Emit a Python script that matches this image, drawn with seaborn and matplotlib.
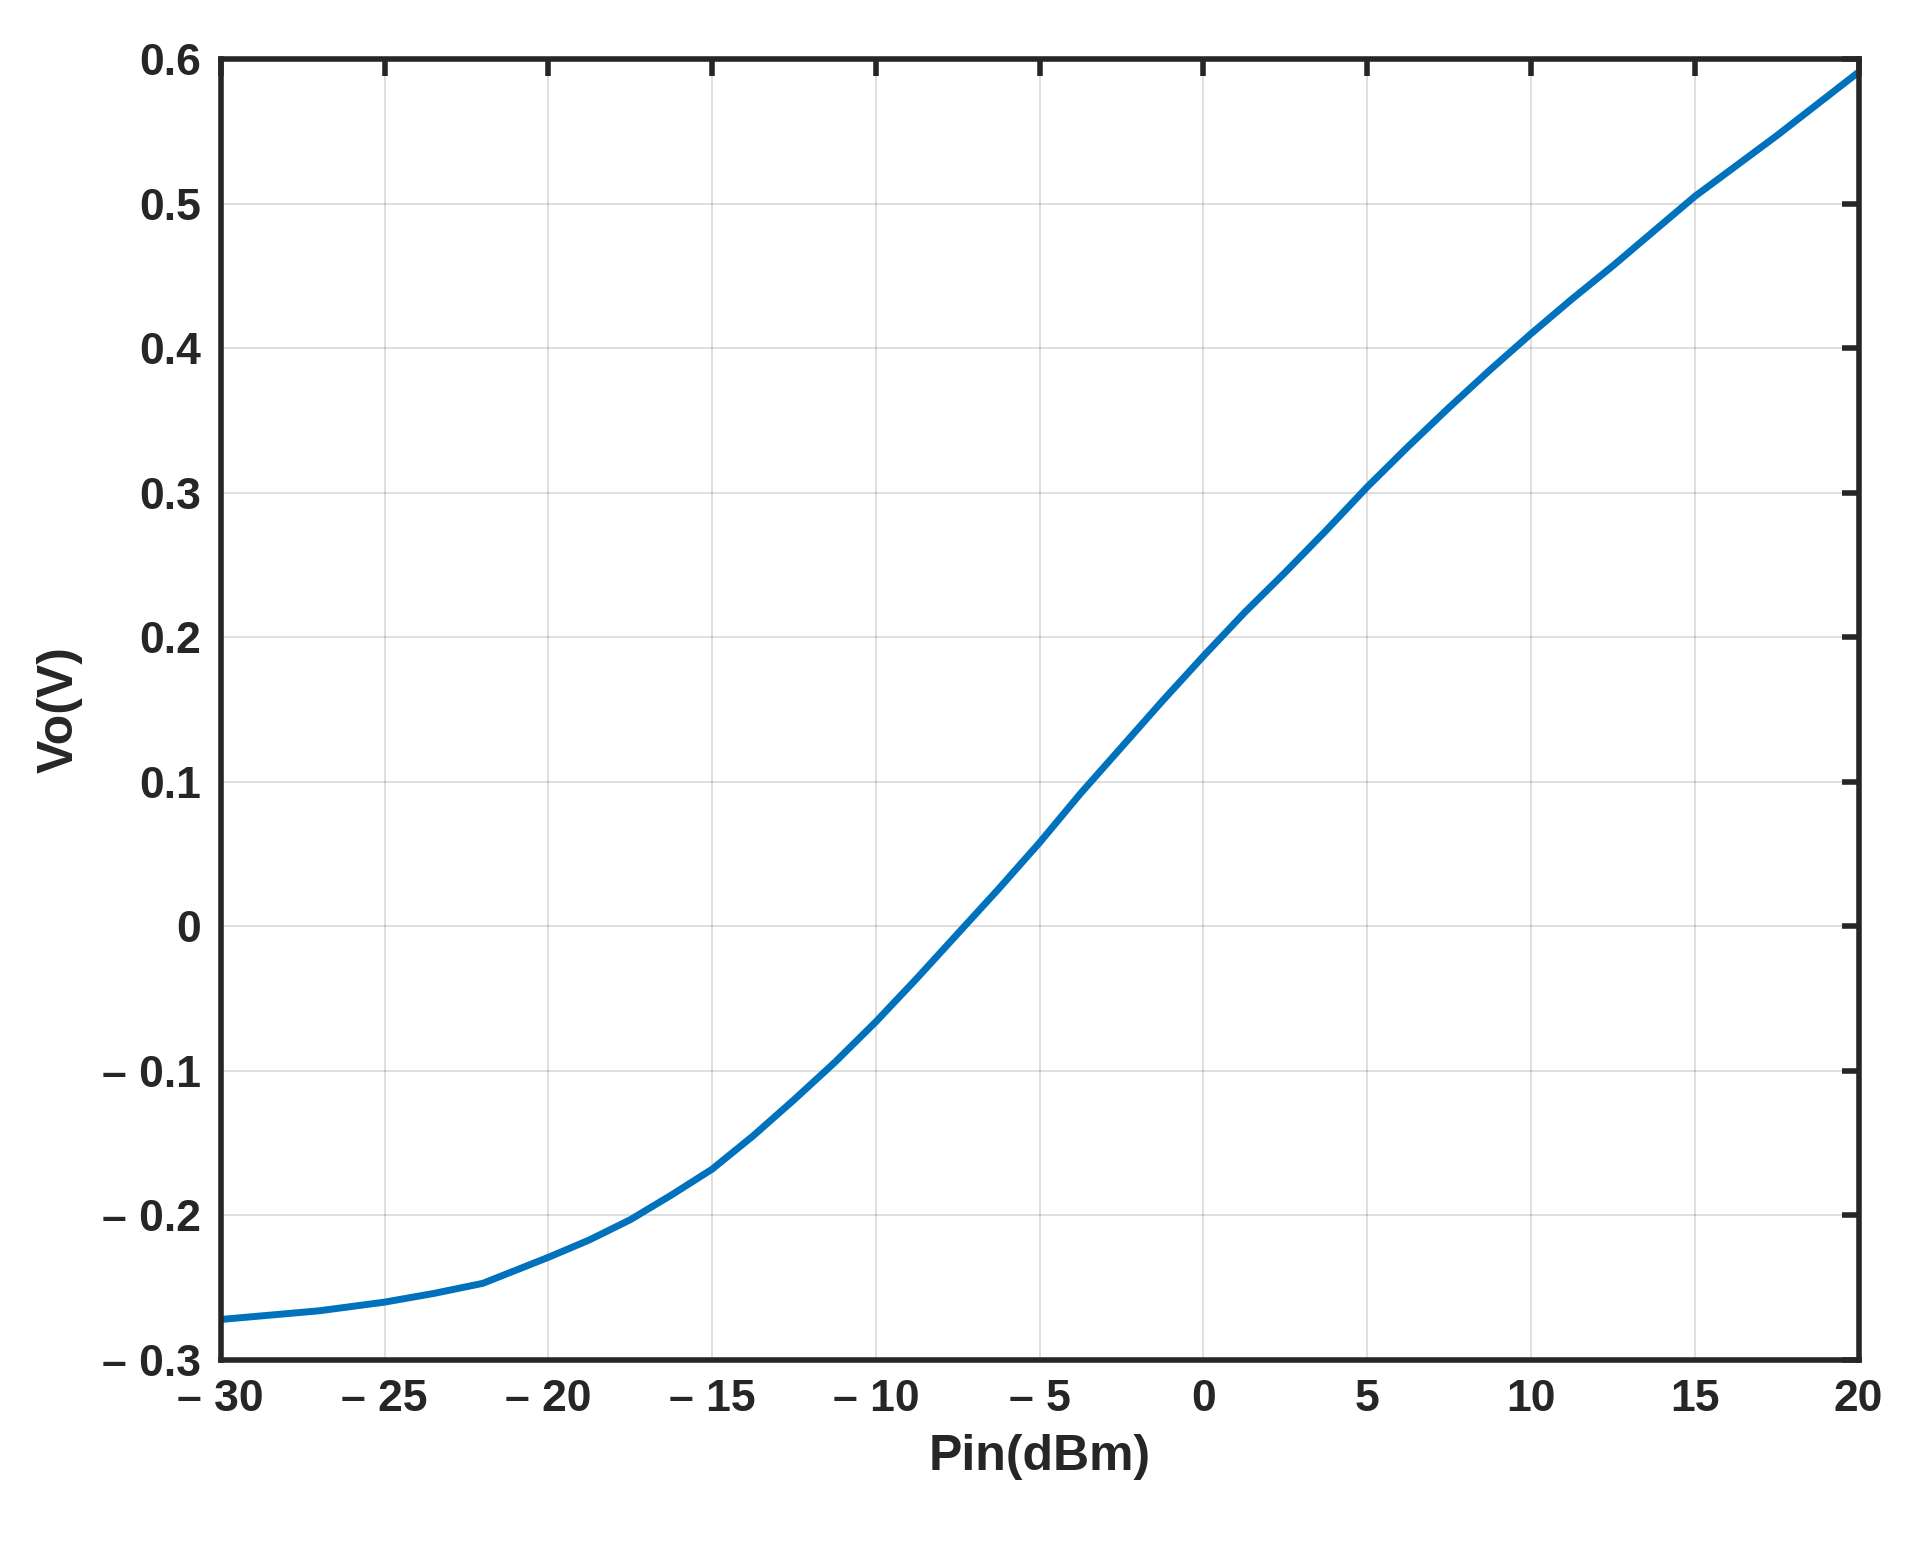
import numpy as np
import pandas as pd
import seaborn as sns
import matplotlib.pyplot as plt

# Datos
pin_dbm = [-30, -28.5, -27, -25, -23.5, -22, -21, -20, -18.75, -17.5, -16.25, -15,
           -13.75, -12.5, -11.25, -10, -8.75, -7.5, -6.25, -5, -3.75, -2.5, -1.25,
           0, 1.25, 2.5, 3.75, 5, 6.25, 7.5, 8.75, 10, 11.25, 12.5, 13.75, 15,
           16.25, 17.5, 18.75, 20]
vo_v = [-0.272, -0.269, -0.266, -0.260, -0.254, -0.247, -0.238, -0.229, -0.217,
        -0.203, -0.186, -0.168, -0.145, -0.120, -0.094, -0.066, -0.036, -0.005,
        0.026, 0.058, 0.092, 0.124, 0.156, 0.187, 0.217, 0.245, 0.274, 0.304,
        0.332, 0.359, 0.385, 0.410, 0.434, 0.457, 0.481, 0.505, 0.526, 0.547,
        0.569, 0.591]
x_ticks = [-30, -25, -20, -15, -10, -5, 0, 5, 10, 15, 20]
y_ticks = [-0.3, -0.2, -0.1, 0, 0.1, 0.2, 0.3, 0.4, 0.5, 0.6]

df = pd.DataFrame({"pin": pin_dbm, "vo": vo_v})

sns.set_style("white")
plt.rcParams['font.family'] = ['Liberation Sans', 'DejaVu Sans']
plt.rcParams['font.weight'] = 'bold'

fig = plt.figure(figsize=(19.2, 15.56), dpi=100)
ax = fig.add_axes([0.115, 0.126, 0.853, 0.836])
sns.lineplot(data=df, x="pin", y="vo", color="#0072BD", linewidth=5, ax=ax)

ax.set_xlim(-30, 20)
ax.set_ylim(-0.3, 0.6)
ax.set_xticks(x_ticks)
ax.set_yticks(y_ticks)

def fmt(v):
    s = f"{v:g}"
    return s.replace("-", "\u2013 ")

ax.set_xticklabels([fmt(v) for v in x_ticks])
ax.set_yticklabels([fmt(v) for v in y_ticks])
ax.tick_params(direction="in", length=12, width=4, top=True, right=True,
               labelsize=32, colors="#262626", pad=14)
for lab in ax.get_xticklabels() + ax.get_yticklabels():
    lab.set_fontweight("bold")
for sp in ax.spines.values():
    sp.set_linewidth(4)
    sp.set_color("#262626")
ax.grid(True, color="#000000", alpha=0.15, linewidth=1.2)

ax.set_xlabel("Pin(dBm)", fontsize=36, fontweight="bold", color="#262626", labelpad=10)
ax.set_ylabel("Vo(V)", fontsize=36, fontweight="bold", color="#262626", labelpad=14)

plt.savefig("out.png", dpi=100)
